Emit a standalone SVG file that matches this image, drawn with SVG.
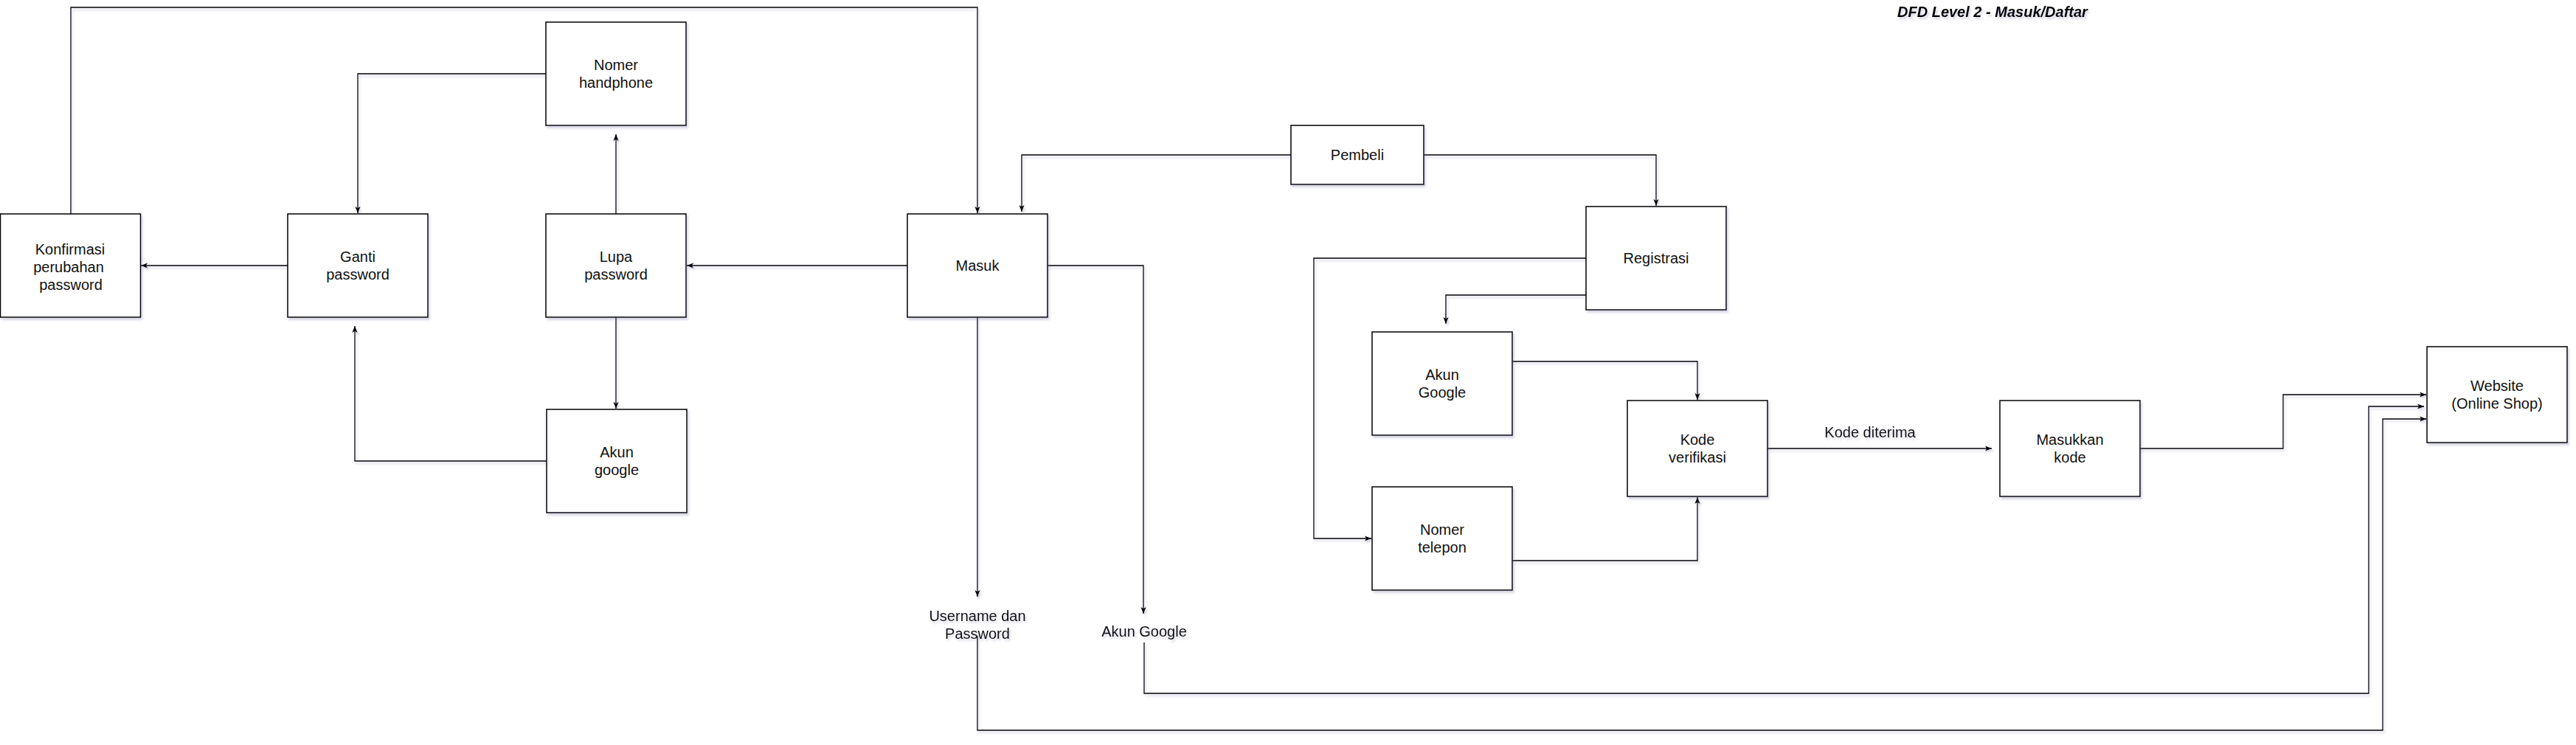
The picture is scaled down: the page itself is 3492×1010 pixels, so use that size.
<svg xmlns="http://www.w3.org/2000/svg" width="3492" height="1010" viewBox="0 0 3492 1010">
<defs>
<filter id="sh" x="-10%" y="-10%" width="130%" height="130%">
<feDropShadow dx="2" dy="3" stdDeviation="1.5" flood-color="#7070a0" flood-opacity="0.3"/>
</filter>
<filter id="esh" filterUnits="userSpaceOnUse" x="0" y="0" width="3492" height="1010">
<feDropShadow dx="2" dy="3" stdDeviation="1.5" flood-color="#7070a0" flood-opacity="0.3"/>
</filter>
<marker id="arr" viewBox="0 0 10 8" refX="10" refY="4" markerWidth="9" markerHeight="8" markerUnits="userSpaceOnUse" orient="auto">
<path d="M0,0 L10,4 L0,8 L2.5,4 z" fill="#000"/>
</marker>
</defs>
<style>
.box{fill:#fff;stroke:#000;stroke-width:1.5;filter:url(#sh)}
.lbl{font-family:"Liberation Sans",Arial,sans-serif;font-size:20px;fill:#111;text-anchor:middle}
.edge{fill:none;stroke:#000;stroke-width:1.3;marker-end:url(#arr)}
.title{font-family:"Liberation Sans",Arial,sans-serif;font-size:20px;font-weight:bold;font-style:italic;fill:#000}
</style>
<rect width="3492" height="1010" fill="#fff"/>

<g id="connectors" filter="url(#esh)">
<path class="edge" d="M96,290 V10 H1325 V289"/>
<path class="edge" d="M740,100 H485 V289"/>
<path class="edge" d="M835,290 V182"/>
<path class="edge" d="M390,360 H191"/>
<path class="edge" d="M1230,360 H931"/>
<path class="edge" d="M835,430 V554"/>
<path class="edge" d="M741,625 H481 V442"/>
<path class="edge" d="M1750,210 H1385 V287"/>
<path class="edge" d="M1930,210 H2245 V279"/>
<path class="edge" d="M1325,430 V809"/>
<path class="edge" d="M1420,360 H1550 V832"/>
<path class="edge" d="M2150,350 H1781 V730 H1859"/>
<path class="edge" d="M2150,400 H1960 V439"/>
<path class="edge" d="M2050,490 H2301 V542"/>
<path class="edge" d="M2050,760 H2301 V674"/>
<path class="edge" d="M2396,608 H2700"/>
<path class="edge" d="M2900,608 H3095 V535 H3289"/>
<path class="edge" d="M1551,871 V940 H3211 V551 H3286"/>
<path class="edge" d="M1325,862 V990 H3230 V568 H3289"/>
<text class="lbl" x="2535" y="593">Kode diterima</text>
</g>

<g id="title" filter="url(#esh)"><text class="title" x="2572" y="23">DFD Level 2 - Masuk/Daftar</text></g>

<g id="konfirmasi">
<rect class="box" x="0.5" y="290" width="190" height="140"/>
<text class="lbl" x="95" y="345">Konfirmasi</text>
<text class="lbl" x="93" y="369">perubahan</text>
<text class="lbl" x="96" y="393">password</text>
</g>
<g id="ganti">
<rect class="box" x="390" y="290" width="190" height="140"/>
<text class="lbl" x="485" y="355">Ganti</text>
<text class="lbl" x="485" y="379">password</text>
</g>
<g id="nomer-handphone">
<rect class="box" x="740" y="30" width="190" height="140"/>
<text class="lbl" x="835" y="95">Nomer</text>
<text class="lbl" x="835" y="119">handphone</text>
</g>
<g id="lupa">
<rect class="box" x="740" y="290" width="190" height="140"/>
<text class="lbl" x="835" y="355">Lupa</text>
<text class="lbl" x="835" y="379">password</text>
</g>
<g id="akun-google-left">
<rect class="box" x="741" y="555" width="190" height="140"/>
<text class="lbl" x="836" y="620">Akun</text>
<text class="lbl" x="836" y="644">google</text>
</g>
<g id="masuk">
<rect class="box" x="1230" y="290" width="190" height="140"/>
<text class="lbl" x="1325" y="367">Masuk</text>
</g>
<g id="pembeli">
<rect class="box" x="1750" y="170" width="180" height="80"/>
<text class="lbl" x="1840" y="217">Pembeli</text>
</g>
<g id="registrasi">
<rect class="box" x="2150" y="280" width="190" height="140"/>
<text class="lbl" x="2245" y="357">Registrasi</text>
</g>
<g id="akun-google-right">
<rect class="box" x="1860" y="450" width="190" height="140"/>
<text class="lbl" x="1955" y="515">Akun</text>
<text class="lbl" x="1955" y="539">Google</text>
</g>
<g id="nomer-telepon">
<rect class="box" x="1860" y="660" width="190" height="140"/>
<text class="lbl" x="1955" y="725">Nomer</text>
<text class="lbl" x="1955" y="749">telepon</text>
</g>
<g id="kode-verifikasi">
<rect class="box" x="2206" y="543" width="190" height="130"/>
<text class="lbl" x="2301" y="603">Kode</text>
<text class="lbl" x="2301" y="627">verifikasi</text>
</g>
<g id="masukkan-kode">
<rect class="box" x="2711" y="543" width="190" height="130"/>
<text class="lbl" x="2806" y="603">Masukkan</text>
<text class="lbl" x="2806" y="627">kode</text>
</g>
<g id="website">
<rect class="box" x="3290" y="470" width="190" height="130"/>
<text class="lbl" x="3385" y="530">Website</text>
<text class="lbl" x="3385" y="554">(Online Shop)</text>
</g>
<g id="label-username" filter="url(#esh)">
<text class="lbl" x="1325" y="842">Username dan</text>
<text class="lbl" x="1325" y="866">Password</text>
</g>
<g id="label-akun-google" filter="url(#esh)">
<text class="lbl" x="1551" y="863">Akun Google</text>
</g>
</svg>
